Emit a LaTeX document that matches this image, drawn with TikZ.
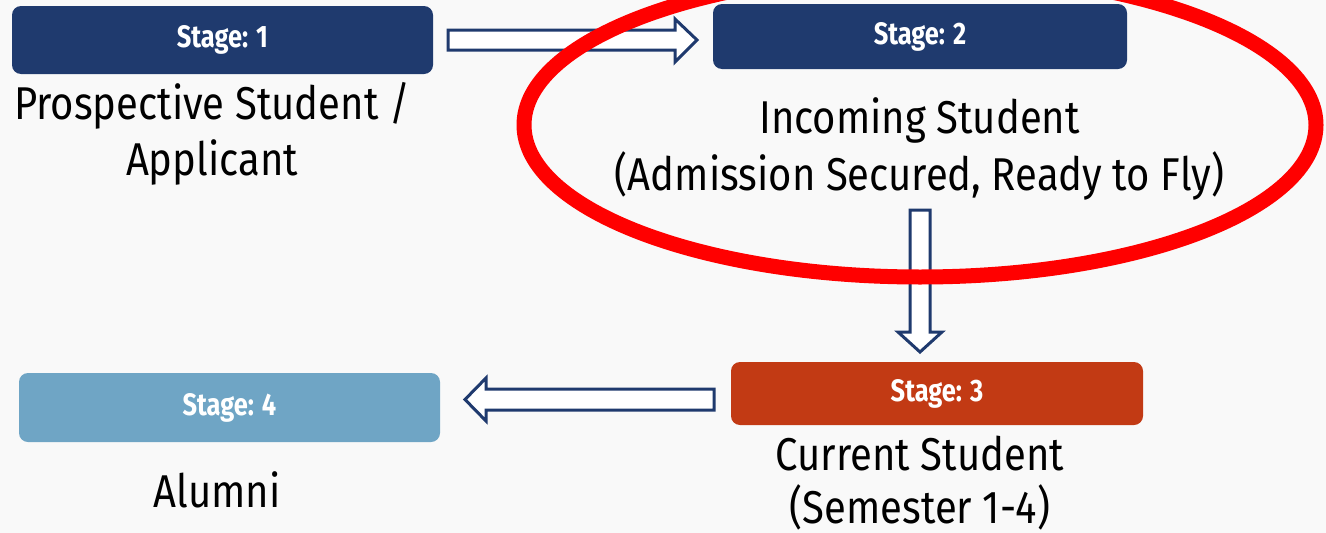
\documentclass[tikz,border=0pt]{standalone}
\usepackage{fontspec}
\setmainfont[FakeStretch=0.87]{Fira Sans}
\newfontfamily\boxfont[FakeStretch=0.82]{Fira Sans}
\definecolor{bg}{HTML}{F9F9F9}
\definecolor{navy}{HTML}{1F3A6E}
\definecolor{rust}{HTML}{C23A14}
\definecolor{sky}{HTML}{6FA5C5}
\definecolor{ringred}{HTML}{FF0000}
\tikzset{
  stagebox/.style={rounded corners=9pt, text=white, font=\boxfont\bfseries\fontsize{31}{35}\selectfont, inner sep=0pt},
  caption/.style={font=\fontsize{46}{56}\selectfont, align=center, anchor=base, inner sep=0pt},
  blockarrow/.style={draw=navy, line width=3pt, fill=white, line join=miter},
}
\begin{document}
\begin{tikzpicture}[x=1pt,y=-1pt]
\fill[bg] (0,0) rectangle (1326,533);
\useasboundingbox (0,0) rectangle (1326,533);

\node[stagebox, fill=navy, minimum width=421pt, minimum height=68pt] (s1) at (222.5,40) {Stage: 1};
\node[stagebox, fill=navy, minimum width=414pt, minimum height=65pt] (s2) at (920,36.5) {Stage: 2};
\node[stagebox, fill=rust, minimum width=412pt, minimum height=63pt] (s3) at (937,393.5) {Stage: 3};
\node[stagebox, fill=sky, minimum width=421pt, minimum height=69pt] (s4) at (229.5,407.5) {Stage: 4};

% anchor=base of a two-line caption sits on its last line
\node[caption] (c1) at (212,175) {Prospective Student /\\Applicant};
\node[caption, font=\fontsize{46}{57}\selectfont] (c2) at (919.5,190) {Incoming Student\\(Admission Secured, Ready to Fly)};
\node[caption, font=\fontsize{46}{53}\selectfont] (c3) at (920,523) {Current Student\\(Semester 1-4)};
\node[caption] (c4) at (217,507) {Alumni};

% block arrows
\draw[blockarrow] (448,30) -- (675,30) -- (675,19) -- (697,40) -- (675,62) -- (675,50) -- (448,50) -- cycle;
\draw[blockarrow] (910,210) -- (930,210) -- (930,332) -- (942,332) -- (920,352) -- (898,332) -- (910,332) -- cycle;
\draw[blockarrow] (714,389) -- (486,389) -- (486,378) -- (465,399.5) -- (486,421) -- (486,410) -- (714,410) -- cycle;

% highlight ring
\draw[ringred, line width=15pt] (920,125) ellipse [x radius=396pt, y radius=152pt];
\end{tikzpicture}
\end{document}
